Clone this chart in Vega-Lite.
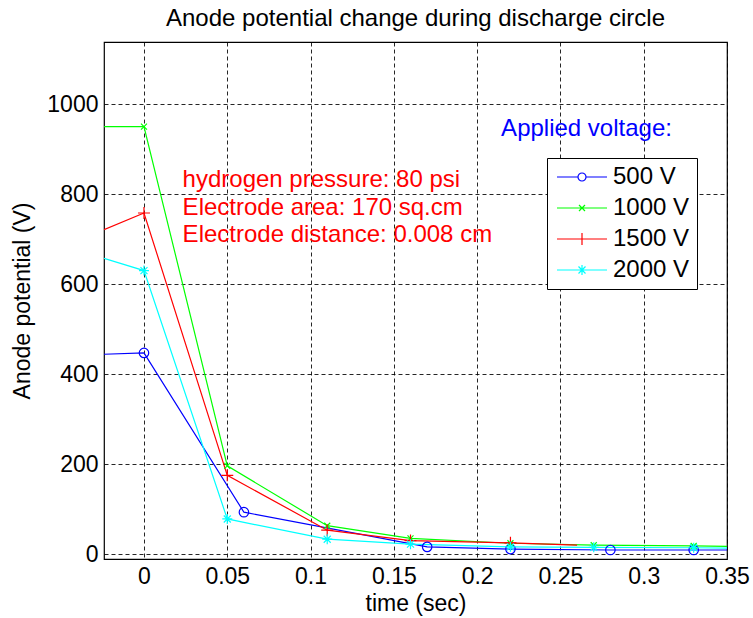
{
  "$schema": "https://vega.github.io/schema/vega-lite/v6.json",
  "width": 623,
  "height": 517,
  "autosize": {"type": "none"},
  "padding": {"left": 104, "top": 42, "right": 26, "bottom": 59},
  "background": "white",
  "title": {
    "text": "Anode potential change during discharge circle",
    "font": "Liberation Sans",
    "fontSize": 24,
    "fontWeight": "normal",
    "color": "black",
    "offset": 11
  },
  "config": {
    "view": {"stroke": "black", "strokeWidth": 1.2},
    "font": "Liberation Sans",
    "axis": {
      "domain": false,
      "ticks": false,
      "tickSize": 0,
      "grid": true,
      "gridColor": "black",
      "gridOpacity": 0.85,
      "gridDash": [4, 3],
      "gridWidth": 1,
      "labelFont": "Liberation Sans",
      "labelFontSize": 23,
      "labelColor": "black",
      "titleFont": "Liberation Sans",
      "titleFontSize": 23,
      "titleFontWeight": "normal",
      "titleColor": "black"
    }
  },
  "datasets": {
    "curves": [
      {"series": "500 V", "t": -0.024, "v": 444},
      {"series": "500 V", "t": 0, "v": 447},
      {"series": "500 V", "t": 0.06, "v": 93},
      {"series": "500 V", "t": 0.17, "v": 16},
      {"series": "500 V", "t": 0.22, "v": 11},
      {"series": "500 V", "t": 0.28, "v": 9},
      {"series": "500 V", "t": 0.33, "v": 9},
      {"series": "500 V", "t": 0.35, "v": 9},
      {"series": "1000 V", "t": -0.024, "v": 950},
      {"series": "1000 V", "t": 0, "v": 950},
      {"series": "1000 V", "t": 0.05, "v": 196},
      {"series": "1000 V", "t": 0.11, "v": 63},
      {"series": "1000 V", "t": 0.16, "v": 35},
      {"series": "1000 V", "t": 0.22, "v": 24},
      {"series": "1000 V", "t": 0.27, "v": 20},
      {"series": "1000 V", "t": 0.33, "v": 18},
      {"series": "1000 V", "t": 0.35, "v": 17},
      {"series": "1500 V", "t": -0.024, "v": 721},
      {"series": "1500 V", "t": 0, "v": 758},
      {"series": "1500 V", "t": 0.05, "v": 175},
      {"series": "1500 V", "t": 0.11, "v": 53},
      {"series": "1500 V", "t": 0.16, "v": 30},
      {"series": "1500 V", "t": 0.22, "v": 25},
      {"series": "1500 V", "t": 0.26, "v": 20},
      {"series": "2000 V", "t": -0.024, "v": 657},
      {"series": "2000 V", "t": 0, "v": 630},
      {"series": "2000 V", "t": 0.05, "v": 78},
      {"series": "2000 V", "t": 0.11, "v": 33},
      {"series": "2000 V", "t": 0.16, "v": 22},
      {"series": "2000 V", "t": 0.22, "v": 16},
      {"series": "2000 V", "t": 0.27, "v": 15},
      {"series": "2000 V", "t": 0.33, "v": 14},
      {"series": "2000 V", "t": 0.35, "v": 13}
    ],
    "notes": [
      {"note": "info"}
    ]
  },
  "layer": [
    {
      "data": {"name": "curves"},
      "transform": [{"filter": "datum.series == '500 V'"}],
      "mark": {"type": "line", "strokeWidth": 1.2, "clip": true, "color": "#0000ff"},
      "encoding": {
        "x": {
          "field": "t",
          "type": "quantitative",
          "scale": {"domain": [-0.024, 0.35], "nice": false, "zero": false},
          "axis": {
            "title": "time (sec)",
            "values": [0, 0.05, 0.1, 0.15, 0.2, 0.25, 0.3, 0.35],
            "format": "~g",
            "labelPadding": 6,
            "titlePadding": 4,
            "labelFlush": false,
            "labelOverlap": false
          }
        },
        "y": {
          "field": "v",
          "type": "quantitative",
          "scale": {"domain": [-11, 1138], "nice": false, "zero": false},
          "axis": {
            "title": "Anode potential (V)",
            "values": [0, 200, 400, 600, 800, 1000],
            "format": "d",
            "labelPadding": 6,
            "titlePadding": 12,
            "labelFlush": false,
            "labelOverlap": false
          }
        }
      }
    },
    {
      "data": {"name": "curves"},
      "transform": [{"filter": "datum.series == '1000 V'"}],
      "mark": {"type": "line", "strokeWidth": 1.2, "clip": true, "color": "#00ff00"},
      "encoding": {
        "x": {"field": "t", "type": "quantitative"},
        "y": {"field": "v", "type": "quantitative"}
      }
    },
    {
      "data": {"name": "curves"},
      "transform": [{"filter": "datum.series == '1500 V'"}],
      "mark": {"type": "line", "strokeWidth": 1.2, "clip": true, "color": "#ff0000"},
      "encoding": {
        "x": {"field": "t", "type": "quantitative"},
        "y": {"field": "v", "type": "quantitative"}
      }
    },
    {
      "data": {"name": "curves"},
      "transform": [{"filter": "datum.series == '2000 V'"}],
      "mark": {"type": "line", "strokeWidth": 1.2, "clip": true, "color": "#00ffff"},
      "encoding": {
        "x": {"field": "t", "type": "quantitative"},
        "y": {"field": "v", "type": "quantitative"}
      }
    },
    {
      "data": {"name": "curves"},
      "transform": [{"filter": "datum.series == '500 V' && datum.t >= 0 && datum.t < 0.345"}],
      "mark": {"type": "point", "shape": "circle", "size": 90, "filled": false, "strokeWidth": 1.2, "opacity": 1, "color": "#0000ff"},
      "encoding": {
        "x": {"field": "t", "type": "quantitative"},
        "y": {"field": "v", "type": "quantitative"}
      }
    },
    {
      "data": {"name": "curves"},
      "transform": [{"filter": "datum.series == '1000 V' && datum.t >= 0 && datum.t < 0.345"}],
      "mark": {"type": "point", "shape": "M-1,-1L1,1M-1,1L1,-1", "size": 36, "filled": false, "strokeWidth": 1.2, "opacity": 1, "color": "#00ff00"},
      "encoding": {
        "x": {"field": "t", "type": "quantitative"},
        "y": {"field": "v", "type": "quantitative"}
      }
    },
    {
      "data": {"name": "curves"},
      "transform": [{"filter": "datum.series == '1500 V' && datum.t >= 0 && datum.t <= 0.22"}],
      "mark": {"type": "point", "shape": "M0,-1L0,1M-1,0L1,0", "size": 144, "filled": false, "strokeWidth": 1.2, "opacity": 1, "color": "#ff0000"},
      "encoding": {
        "x": {"field": "t", "type": "quantitative"},
        "y": {"field": "v", "type": "quantitative"}
      }
    },
    {
      "data": {"name": "curves"},
      "transform": [{"filter": "datum.series == '2000 V' && datum.t >= 0 && datum.t < 0.345"}],
      "mark": {"type": "point", "shape": "M0,-1L0,1M-1,0L1,0M-0.7,-0.7L0.7,0.7M-0.7,0.7L0.7,-0.7", "size": 100, "filled": false, "strokeWidth": 1.2, "opacity": 1, "color": "#00ffff"},
      "encoding": {
        "x": {"field": "t", "type": "quantitative"},
        "y": {"field": "v", "type": "quantitative"}
      }
    },
    {
      "data": {"name": "curves"},
      "mark": {"type": "point", "filled": false, "opacity": 0, "size": 100, "strokeWidth": 1.2, "clip": true},
      "encoding": {
        "x": {"field": "t", "type": "quantitative"},
        "y": {"field": "v", "type": "quantitative"},
        "color": {
          "field": "series",
          "type": "nominal",
          "scale": {
            "domain": ["500 V", "1000 V", "1500 V", "2000 V"],
            "range": ["#0000ff", "#00ff00", "#ff0000", "#00ffff"]
          },
          "legend": {
            "title": null,
            "orient": "none",
            "legendX": 443,
            "legendY": 116,
            "strokeColor": "black",
            "fillColor": "white",
            "padding": 7,
            "symbolOffset": 16,
            "symbolSize": 100,
            "symbolStrokeWidth": 1.2,
            "symbolOpacity": 1,
            "labelOffset": 19,
            "labelFont": "Liberation Sans",
            "labelFontSize": 24,
            "labelColor": "black",
            "rowPadding": 7
          }
        },
        "shape": {
          "field": "series",
          "type": "nominal",
          "scale": {
            "domain": ["500 V", "1000 V", "1500 V", "2000 V"],
            "range": [
              "M-5,0L-0.8,0M0.8,0L5,0M0.8,0A0.8,0.8 0 1,1 -0.8,0A0.8,0.8 0 1,1 0.8,0",
              "M-5,0L5,0M-0.6,-0.6L0.6,0.6M-0.6,0.6L0.6,-0.6",
              "M-5,0L5,0M0,-1.2L0,1.2",
              "M-5,0L5,0M0,-1L0,1M-0.7,-0.7L0.7,0.7M-0.7,0.7L0.7,-0.7"
            ]
          },
          "legend": {
            "title": null,
            "orient": "none",
            "legendX": 443,
            "legendY": 116,
            "strokeColor": "black",
            "fillColor": "white",
            "padding": 7,
            "symbolOffset": 16,
            "symbolSize": 100,
            "symbolStrokeWidth": 1.2,
            "symbolOpacity": 1,
            "labelOffset": 19,
            "labelFont": "Liberation Sans",
            "labelFontSize": 24,
            "labelColor": "black",
            "rowPadding": 7
          }
        }
      }
    },
    {
      "data": {"name": "notes"},
      "mark": {
        "type": "text",
        "text": ["hydrogen pressure: 80 psi", "Electrode area: 170 sq.cm", "Electrode distance: 0.008 cm"],
        "lineHeight": 27.5,
        "align": "left",
        "baseline": "alphabetic",
        "font": "Liberation Sans",
        "fontSize": 24,
        "color": "#ff0000"
      },
      "encoding": {
        "x": {"datum": 0.0232, "type": "quantitative"},
        "y": {"datum": 815, "type": "quantitative"}
      }
    },
    {
      "data": {"name": "notes"},
      "mark": {
        "type": "text",
        "text": "Applied voltage:",
        "align": "left",
        "baseline": "alphabetic",
        "font": "Liberation Sans",
        "fontSize": 24,
        "color": "#0000ff"
      },
      "encoding": {
        "x": {"datum": 0.2144, "type": "quantitative"},
        "y": {"datum": 929, "type": "quantitative"}
      }
    }
  ]
}
